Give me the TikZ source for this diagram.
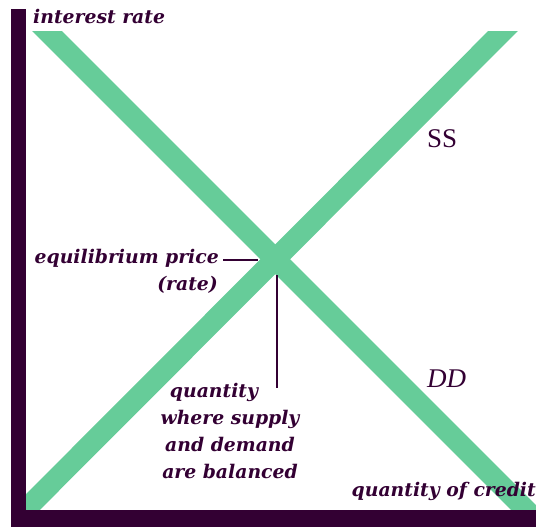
\documentclass[tikz,border=0pt]{standalone}
\usepackage{fontspec}
\setmainfont{Liberation Serif}
\newfontfamily\lblfont{DejaVu Serif}
\definecolor{axiscol}{HTML}{330033}
\definecolor{linecol}{HTML}{66CC99}
\tikzset{
  lbl/.style={text=axiscol, font=\lblfont\fontsize{18.8}{27}\selectfont\bfseries\itshape, inner sep=0pt},
  curve/.style={draw=linecol, line width=21pt},
  axisbar/.style={fill=axiscol, draw=none},
  pointer/.style={draw=axiscol, line width=1.8pt}
}
\begin{document}
\begin{tikzpicture}[x=1pt,y=-1pt]
\useasboundingbox (0,0) rectangle (536,527);
% supply and demand lines
\begin{scope}
\clip (26,32) rectangle (536,510);
\coordinate (ddtop) at (20,4);
\coordinate (ddbot) at (554,538);
\coordinate (sstop) at (530,4);
\coordinate (ssbot) at (-3,538);
\draw[curve] (ddtop) -- (ddbot);
\draw[curve] (sstop) -- (ssbot);
\end{scope}
% axes
\path[axisbar] (11,9) rectangle (26,527);
\path[axisbar] (11,510) rectangle (536,527);
% labels
\node[lbl, anchor=base west] (ylab) at (33,24) {interest rate};
\node[lbl, anchor=base east] (xlab) at (536,496) {quantity of credit};
\node[text=axiscol, font=\fontsize{27}{30}\selectfont, inner sep=0pt, anchor=base west] (ss) at (427,147) {SS};
\node[text=axiscol, font=\fontsize{27}{30}\selectfont\itshape, inner sep=0pt, anchor=base west] (dd) at (427,387) {DD};
\node[lbl, anchor=base east] (eqp) at (219,263) {equilibrium price};
\node[lbl, anchor=base east] (rate) at (218,290) {(rate)};
\node[lbl, align=center, anchor=north] (qty) at (230,383) {quantity\hspace*{32pt}\\where supply\\and demand\\are balanced};
% pointer lines
\coordinate (eq) at (275,260);
\coordinate (hend) at (258,260);
\coordinate (vtop) at (277,275);
\coordinate (vbot) at (277,388);
\draw[pointer] (eqp.east |- hend) ++(4,0) -- (hend);
\draw[pointer] (vtop) -- (vbot);
\end{tikzpicture}
\end{document}
